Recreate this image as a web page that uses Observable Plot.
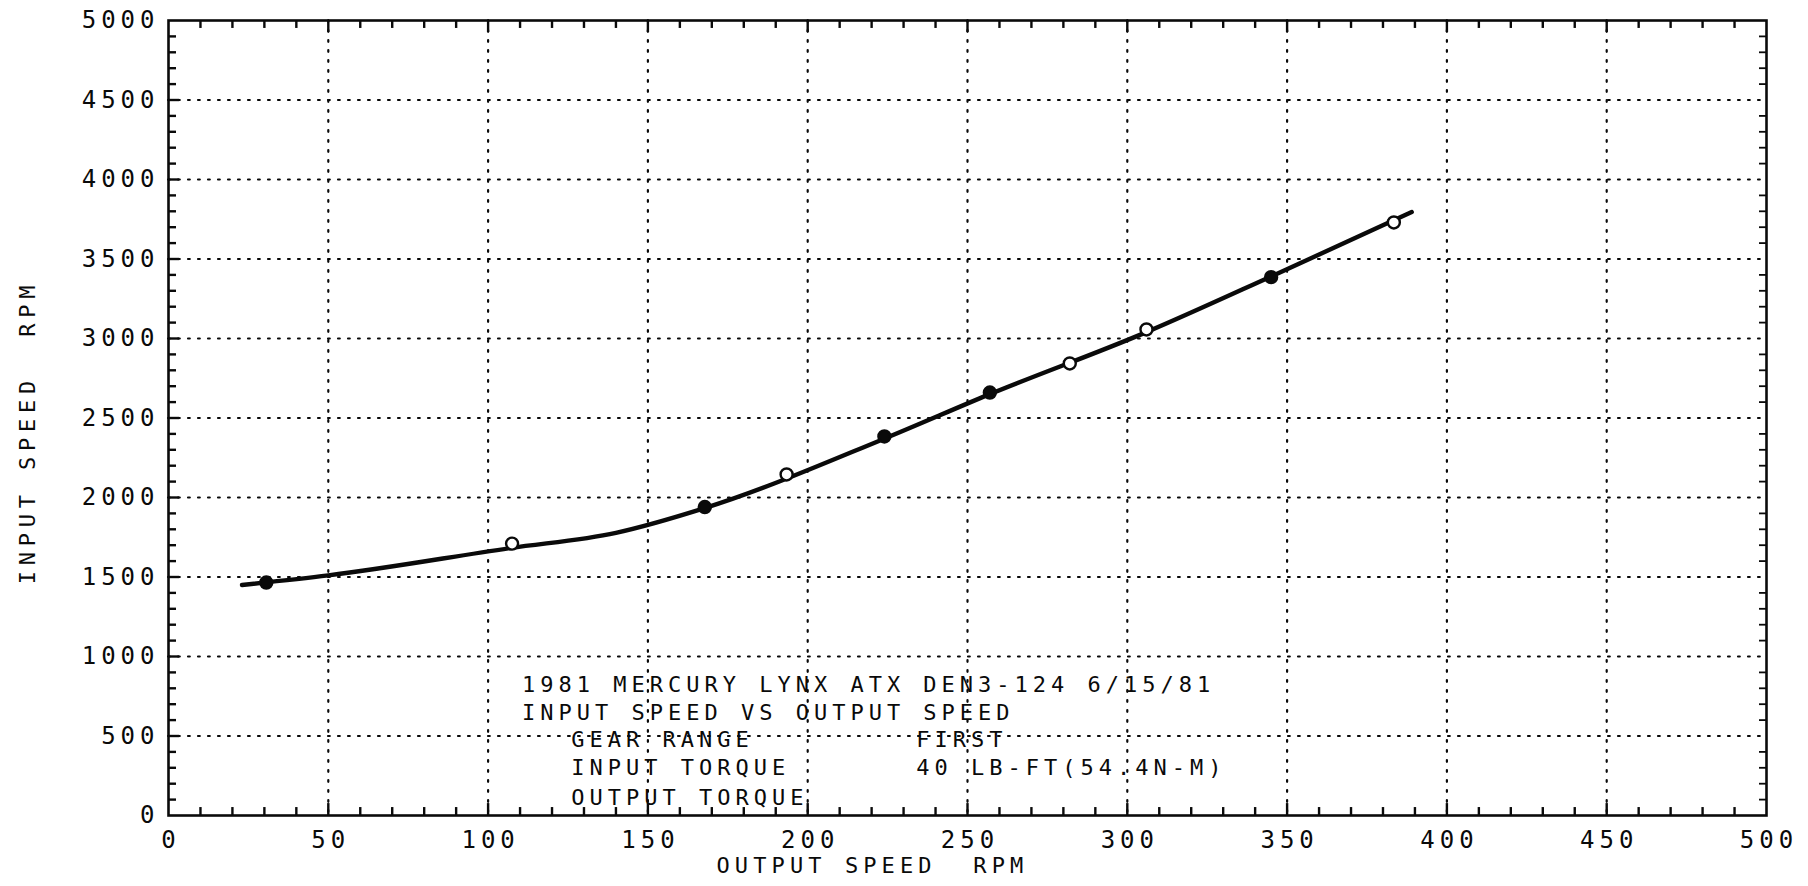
<!DOCTYPE html>
<html>
<head>
<meta charset="utf-8">
<script src="https://cdn.jsdelivr.net/npm/d3@7"></script>
<script src="https://cdn.jsdelivr.net/npm/@observablehq/plot@0.6"></script>
<style>
  html, body { margin: 0; padding: 0; background: #fff; }
  #chart svg text { white-space: pre; }
  .tick { letter-spacing: 5px; }
  .note { letter-spacing: 5px; }
  .xt { letter-spacing: 5.1px; }
  .yt { letter-spacing: 5.8px; }
</style>
</head>
<body>
<div id="chart"></div>
<script>
// ---- data ----
const outputSpeed = [30.6, 107.5, 167.8, 193.4, 224, 257, 282, 306, 345, 383.4];
const inputSpeed  = [1465, 1710, 1940, 2145, 2384, 2660, 2843, 3057, 3386, 3730];
const pointFilled = [true, false, true, false, true, true, false, false, true, false];

// smoothed fit curve drawn through the points
const fitX = [23, 50, 107, 140, 168, 224, 257, 306, 345, 389];
const fitY = [1450, 1510, 1682, 1778, 1935, 2370, 2650, 3040, 3390, 3795];

const xTickLabels = [0, 50, 100, 150, 200, 250, 300, 350, 400, 450, 500];
const yTickLabels = [0, 500, 1000, 1500, 2000, 2500, 3000, 3500, 4000, 4500, 5000];

const xTitle = "OUTPUT SPEED  RPM";
const yTitle = "INPUT SPEED  RPM";

const noteText = ["1981 MERCURY LYNX ATX DEN3-124 6/15/81", "INPUT SPEED VS OUTPUT SPEED",
                  "GEAR RANGE", "FIRST", "INPUT TORQUE", "40 LB-FT(54.4N-M)", "OUTPUT TORQUE"];
const noteX = [110.6, 110.6, 126, 234, 126, 234, 126];
const noteY = [824, 642, 472, 472, 296, 296, 113];

// ---- build ----
const points = outputSpeed.map((x, i) => ({x, y: inputSpeed[i], filled: pointFilled[i]}));
const fit = fitX.map((x, i) => ({x, y: fitY[i]}));
const notes = noteText.map((t, i) => ({t, x: noteX[i], y: noteY[i]}));

const xMinor = d3.range(0, 501, 10).filter(v => v % 50 !== 0);
const yMinor = d3.range(0, 5001, 100).filter(v => v % 500 !== 0);
const xGrid = xTickLabels.filter(v => v > 0 && v < 500);
const yGrid = yTickLabels.filter(v => v > 0 && v < 5000);

const font = "DejaVu Sans Mono";
const dots = "1.8,8.2";
const ink = "#0a0a0a";

const chart = Plot.plot({
  width: 1808,
  height: 886,
  marginLeft: 168,
  marginRight: 42,
  marginTop: 20,
  marginBottom: 71,
  style: {fontFamily: font, background: "#fff", color: "#000"},
  x: {domain: [0, 500], axis: null},
  y: {domain: [0, 5000], axis: null},
  marks: [
    // dotted grid
    Plot.ruleX(xGrid, {stroke: ink, strokeWidth: 2.2, strokeDasharray: dots, strokeLinecap: "round"}),
    Plot.ruleY(yGrid, {stroke: ink, strokeWidth: 2.2, strokeDasharray: dots, strokeLinecap: "round"}),
    // minor ticks bottom / top
    Plot.ruleX(xMinor, {y1: 0, y2: 50, stroke: ink, strokeWidth: 2.4}),
    Plot.ruleX(xMinor, {y1: 5000, y2: 4950, stroke: ink, strokeWidth: 2.4}),
    Plot.ruleX(xGrid, {y1: 0, y2: 75, stroke: ink, strokeWidth: 2.4}),
    Plot.ruleX(xGrid, {y1: 5000, y2: 4925, stroke: ink, strokeWidth: 2.4}),
    // minor ticks left / right
    Plot.ruleY(yMinor, {x1: 0, x2: 2.5, stroke: ink, strokeWidth: 2.4}),
    Plot.ruleY(yMinor, {x1: 500, x2: 497.8, stroke: ink, strokeWidth: 1.8}),
    Plot.ruleY(yGrid, {x1: 0, x2: 3.5, stroke: ink, strokeWidth: 2.4}),
    Plot.frame({stroke: ink, strokeWidth: 2.6}),
    // tick labels
    Plot.text(xTickLabels, {x: d => d, frameAnchor: "bottom", dy: 25, dx: 2.5, textAnchor: "middle", lineAnchor: "middle",
      text: d => String(d), fontSize: 24, fontFamily: font, fill: ink, className: "tick"}),
    Plot.text(yTickLabels, {y: d => d, frameAnchor: "left", dx: -9, textAnchor: "end", lineAnchor: "middle",
      text: d => String(d), fontSize: 24, fontFamily: font, fill: ink, className: "tick"}),
    // axis titles
    Plot.text([xTitle], {frameAnchor: "bottom", textAnchor: "start", dx: -251, dy: 50, lineAnchor: "middle",
      text: d => d, fontSize: 22, fontFamily: font, fill: ink, className: "xt"}),
    Plot.text([yTitle], {frameAnchor: "left", textAnchor: "middle", rotate: -90, dx: -141, dy: 14, lineAnchor: "middle",
      text: d => d, fontSize: 22, fontFamily: font, fill: ink, className: "yt"}),
    // annotation block
    Plot.text(notes, {x: "x", y: "y", text: "t", textAnchor: "start", lineAnchor: "middle",
      fontSize: 22, fontFamily: font, fill: ink, className: "note"}),
    // fit curve
    Plot.line(fit, {x: "x", y: "y", curve: "monotone-x", stroke: ink, strokeWidth: 4.4}),
    // data points
    Plot.dot(points, {x: "x", y: "y", r: 6, stroke: ink, strokeWidth: 2.4,
      fill: d => d.filled ? ink : "#fff"})
  ]
});
document.getElementById("chart").append(chart);
</script>
</body>
</html>
